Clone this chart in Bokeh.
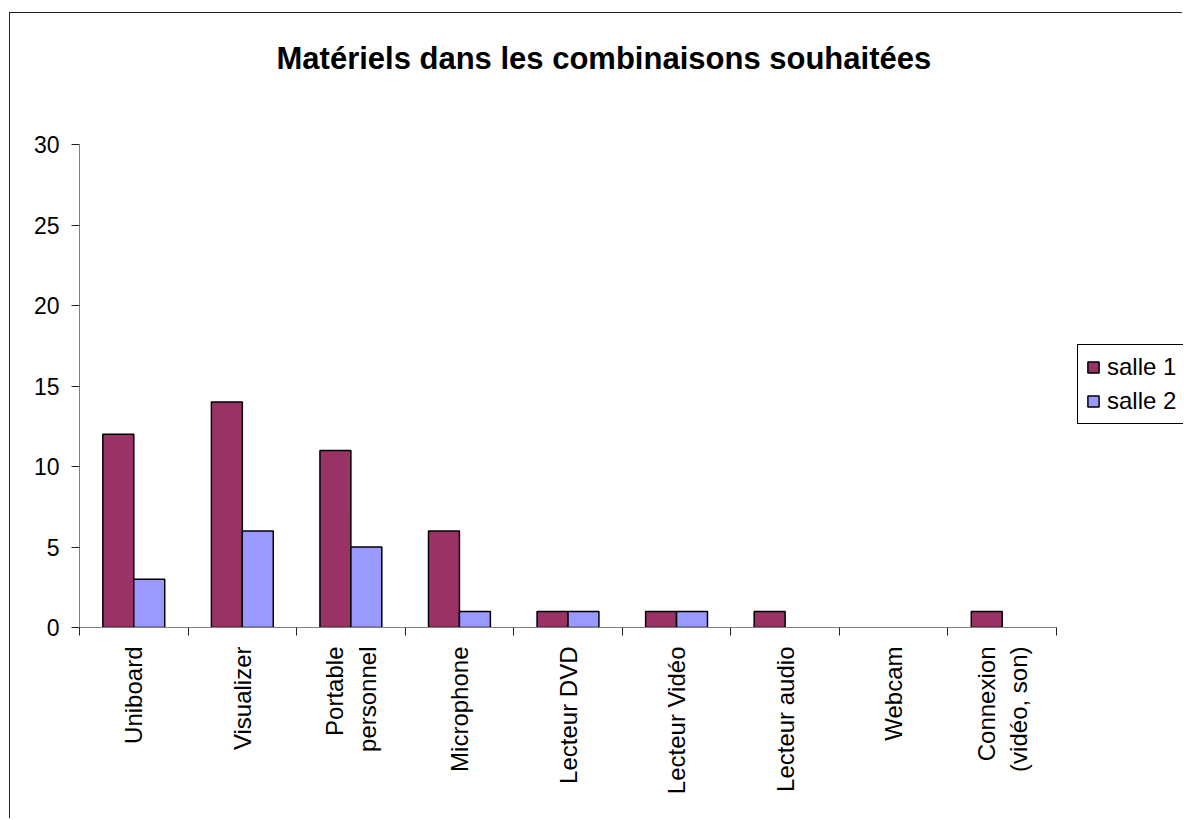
import math
from bokeh.plotting import figure
from bokeh.models import (Range1d, LinearAxis, FixedTicker,
                          Legend, LegendItem, CustomJSTickFormatter, ColumnDataSource,
                          CDSView, BooleanFilter)
from bokeh.transform import dodge
from bokeh.embed import file_html
from bokeh.resources import INLINE

categories = ["Uniboard", "Visualizer", "Portable\npersonnel", "Microphone", "Lecteur DVD",
              "Lecteur Vidéo", "Lecteur audio", "Webcam", "Connexion\n(vidéo, son)"]
salle1 = [12, 14, 11, 6, 1, 1, 1, 0, 1]
salle2 = [3, 6, 5, 1, 1, 1, 0, 0, 0]
y_ticks = [0, 5, 10, 15, 20, 25, 30]
series_names = ["salle 1", "salle 2"]
title_text = "Matériels dans les combinaisons souhaitées"

FONT = "Liberation Sans"
n = len(categories)
centers = [i + 0.5 for i in range(n)]
blank = CustomJSTickFormatter(code="return ''")

# the plotting frame runs to the right edge (room for the legend);
# the category axis covers 977 px of the 1104 px frame
x_end = n * 1104 / 977

p = figure(width=1173, height=806, output_backend="svg", toolbar_location=None,
           x_range=Range1d(0, x_end), y_range=Range1d(0, 30),
           x_axis_type=None, min_border_left=69, min_border_top=131,
           min_border_right=0, min_border_bottom=192)
p.margin = (12, 0, 0, 9)
p.styles = {"border-left": "1.5px solid #222222", "border-top": "1.5px solid #222222"}
p.grid.visible = False
p.outline_line_color = None
p.background_fill_color = "white"
p.border_fill_color = "white"

p.title.text = title_text
p.title.text_font = FONT
p.title.text_font_size = "31px"
p.title.text_font_style = "bold"
p.title.text_color = "black"
p.title.align = "left"
p.title.offset = 197
p.title.standoff = 10

src = ColumnDataSource(dict(xc=centers, cat=categories, s1=salle1, s2=salle2))
r1 = p.vbar(x=dodge("xc", -0.1425), top="s1", width=0.285, source=src,
            view=CDSView(filter=BooleanFilter([v > 0 for v in salle1])),
            fill_color="#993366", line_color="black", line_width=1.5)
r2 = p.vbar(x=dodge("xc", 0.1425), top="s2", width=0.285, source=src,
            view=CDSView(filter=BooleanFilter([v > 0 for v in salle2])),
            fill_color="#9999FF", line_color="black", line_width=1.5)

# y axis
ya = p.yaxis[0]
ya.ticker = FixedTicker(ticks=y_ticks)
ya.major_tick_out = 8
ya.major_tick_in = 0
ya.minor_tick_out = 0
ya.minor_tick_in = 0
ya.minor_tick_line_color = None
ya.axis_line_color = "#808080"
ya.major_tick_line_color = "#222222"
ya.major_label_text_font = FONT
ya.major_label_text_font_size = "23px"
ya.major_label_text_color = "black"
ya.major_label_standoff = 12

# x axis with boundary ticks
xe = LinearAxis(ticker=FixedTicker(ticks=list(range(n + 1))), formatter=blank,
                bounds=(0, n),
                major_tick_out=8, major_tick_in=0, minor_tick_line_color=None,
                axis_line_color="#808080", major_tick_line_color="#222222",
                major_label_standoff=0, major_label_text_font_size="1px")
p.add_layout(xe, "below")

# x axis with category labels at centres
xc = LinearAxis(ticker=FixedTicker(ticks=centers), bounds=(0, n),
                major_label_overrides={c: lab for c, lab in zip(centers, categories)},
                axis_line_color=None, major_tick_line_color=None, minor_tick_line_color=None,
                major_label_orientation=math.pi / 2,
                major_label_text_font=FONT, major_label_text_font_size="24px",
                major_label_text_color="black", major_label_standoff=5)
p.add_layout(xc, "below")

# invisible spacer (gap between frame and title)
top_gap = LinearAxis(ticker=FixedTicker(ticks=[0]), formatter=blank,
                     major_tick_out=64, major_tick_in=0, major_tick_line_alpha=0,
                     minor_tick_line_color=None, axis_line_alpha=0,
                     major_label_standoff=0, major_label_text_font_size="1px")
p.add_layout(top_gap, "above")

legend = Legend(items=[LegendItem(label=series_names[0], renderers=[r1]),
                       LegendItem(label=series_names[1], renderers=[r2])],
                location=(998, 203), padding=8, spacing=6, margin=0,
                glyph_width=14, glyph_height=14, label_standoff=7,
                label_text_font=FONT, label_text_font_size="24px", label_text_color="black",
                border_line_color="black", border_line_width=1.5, border_line_alpha=1,
                background_fill_color="white", background_fill_alpha=1)
p.add_layout(legend, "center")

open("out.html", "w").write(file_html(p, INLINE))
